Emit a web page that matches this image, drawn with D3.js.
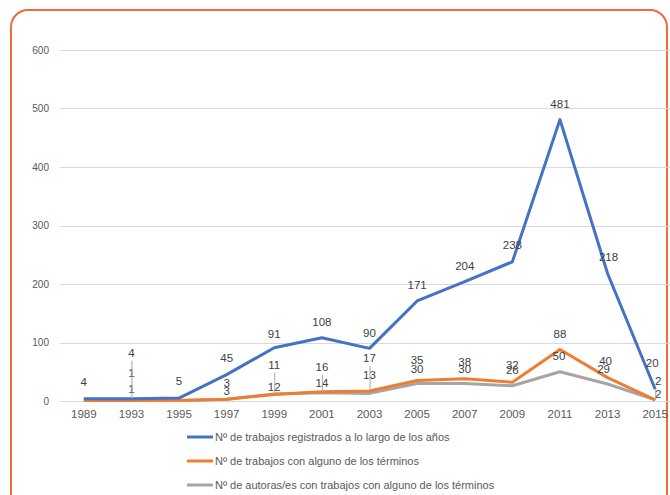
<!DOCTYPE html>
<html>
<head>
<meta charset="utf-8">
<script src="https://cdn.jsdelivr.net/npm/d3@7"></script>
<style>
  body { margin: 0; background: #fff; }
  svg text { font-family: "Liberation Sans", Arial, sans-serif; }
</style>
</head>
<body>
<div id="plot"></div>
<script>
// data
const years = ['1989', '1993', '1995', '1997', '1999', '2001', '2003', '2005', '2007', '2009', '2011', '2013', '2015']
const trabajos = [4, 4, 5, 45, 91, 108, 90, 171, 204, 238, 481, 218, 20]
const trabajosTerminos = [1, 1, 1, 3, 11, 16, 17, 35, 38, 32, 88, 40, 2]
const autoras = [1, 1, 1, 3, 12, 14, 13, 30, 30, 26, 50, 29, 2]
const yTicks = [0, 100, 200, 300, 400, 500, 600]
const seriesNames = [
    'Nº de trabajos registrados a lo largo de los años',
    'Nº de trabajos con alguno de los términos',
    'Nº de autoras/es con trabajos con alguno de los términos'
]

// label placement (dx, dy from the point, leader line flag); null = no label
const blueLabels = [[0,-17],[0,-46,1],[0,-17],[0,-17],[0,-14],[0,-16],[0,-15],[0,-16],[0,-16],[0,-17],[0,-16],[1,-16],[-3,-26]]
const orangeLabels = [null,[0,-27],null,[0,-16],[0,-30,1],[0,-25,1],[0,-33,1],[0,-21],[0,-17],[0,-17],[0,-16],[-2,-17],[3,-19,1]]
const grayLabels = [null,[0,-11],null,[0,-8],[0,-7],[0,-10],[0,-18],[0,-14],[0,-14],[0,-16],[-1,-16],[-4,-15],[3,-6]]

const width = 670, height = 495
const svg = d3.select('#plot').append('svg')
    .attr('width', width).attr('height', height)

// frame
svg.append('rect')
    .attr('x', 11).attr('y', 10)
    .attr('width', 656).attr('height', 520)
    .attr('rx', 17)
    .attr('fill', 'none')
    .attr('stroke', '#f0693f')
    .attr('stroke-width', 2)

const x = d3.scaleBand().domain(years).range([60, 679])
const y = d3.scaleLinear().domain([0, 600]).range([401, 50])
const cx = d => x(d) + x.bandwidth() / 2

// grid
svg.append('g').selectAll('line').data(yTicks).enter().append('line')
    .attr('x1', 60).attr('x2', 680)
    .attr('y1', d => Math.round(y(d)) + 0.5).attr('y2', d => Math.round(y(d)) + 0.5)
    .attr('stroke', '#d9d9d9').attr('stroke-width', 1)

// y axis
const yAxis = svg.append('g').attr('transform', 'translate(60,0)')
    .call(d3.axisLeft(y).tickValues(yTicks).tickSize(0).tickPadding(11))
yAxis.select('.domain').remove()
yAxis.selectAll('text').attr('fill', '#595959').style('font-size', '10px')

// x axis
const xAxis = svg.append('g').attr('transform', 'translate(0,401)')
    .call(d3.axisBottom(x).tickSize(0).tickPadding(9))
xAxis.select('.domain').remove()
xAxis.selectAll('text').attr('fill', '#595959').style('font-size', '11.5px')

const series = [
    { values: autoras, color: '#a5a5a5', labels: grayLabels },
    { values: trabajosTerminos, color: '#ed7d31', labels: orangeLabels },
    { values: trabajos, color: '#4472c4', labels: blueLabels }
]

const line = d3.line().x((d, i) => cx(years[i])).y(d => y(d))

series.forEach(s => {
    svg.append('path')
        .datum(s.values)
        .attr('d', line)
        .attr('fill', 'none')
        .attr('stroke', s.color)
        .attr('stroke-width', 3)
        .attr('stroke-linejoin', 'round')
})

// data labels
series.forEach(s => {
    const g = svg.append('g')
    s.values.forEach((v, i) => {
        const lab = s.labels[i]
        if (!lab) return
        const px = cx(years[i]), py = y(v)
        const lx = px + lab[0], ly = py + lab[1]
        if (lab[2]) {
            g.append('line')
                .attr('x1', px + 0.5).attr('x2', px + 0.5)
                .attr('y1', ly + 8).attr('y2', py)
                .attr('stroke', '#a6a6a6').attr('stroke-width', 1)
        }
        g.append('text')
            .attr('x', lx).attr('y', ly)
            .attr('dy', '0.35em')
            .attr('text-anchor', 'middle')
            .attr('fill', '#404040')
            .style('font-size', '11.5px')
            .text(v)
    })
})

// legend
const legendColors = ['#4472c4', '#ed7d31', '#a5a5a5']
const legend = svg.append('g')
seriesNames.forEach((name, i) => {
    const ly = 437 + i * 24
    legend.append('line')
        .attr('x1', 187).attr('x2', 213)
        .attr('y1', ly).attr('y2', ly)
        .attr('stroke', legendColors[i]).attr('stroke-width', 3)
    legend.append('text')
        .attr('x', 215).attr('y', ly)
        .attr('dy', '0.35em')
        .attr('fill', '#595959')
        .style('font-size', '11px')
        .text(name)
})
</script>
</body>
</html>
